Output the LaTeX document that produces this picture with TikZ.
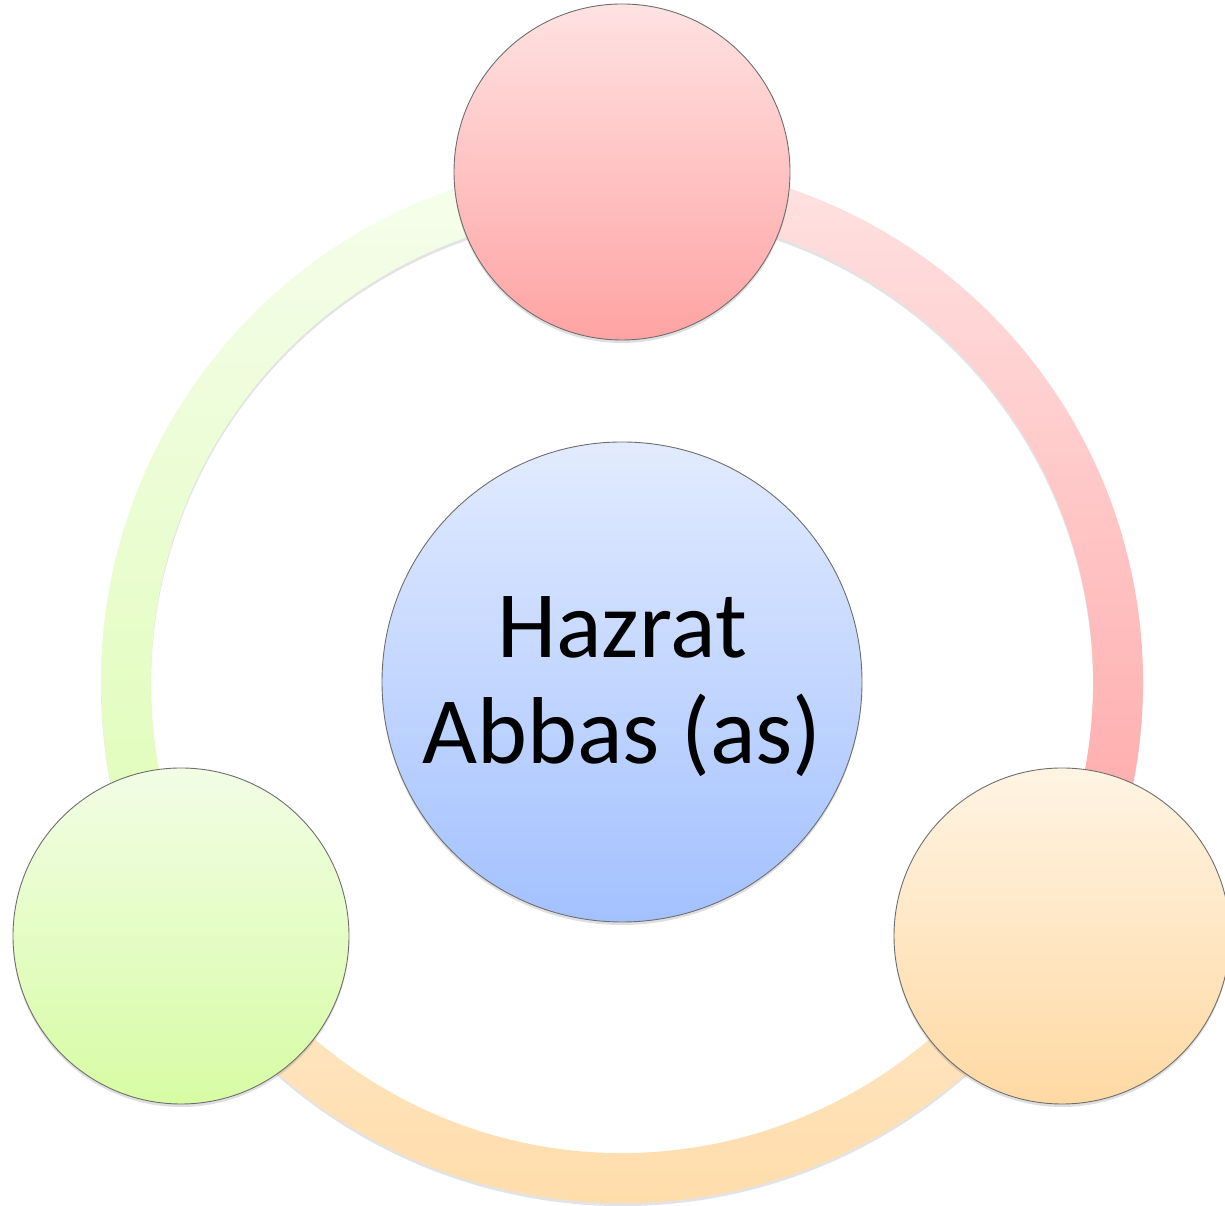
\documentclass[tikz,border=0pt]{standalone}
\usepackage{fontspec}
\setmainfont{Carlito}
\usetikzlibrary{shadows,calc}
\definecolor{pinkT}{HTML}{FFE2E2}
\definecolor{pinkB}{HTML}{FFA3A3}
\definecolor{oraT}{HTML}{FFF4E3}
\definecolor{oraB}{HTML}{FFD9A3}
\definecolor{grnT}{HTML}{F2FDE5}
\definecolor{grnB}{HTML}{D7FCA4}
\definecolor{bluT}{HTML}{E2EBFF}
\definecolor{bluB}{HTML}{A3C1FF}
\definecolor{edge}{HTML}{6E6E6E}
\tikzset{
  ball/.style={circle, draw=edge, line width=0.9pt, minimum size=336pt, inner sep=0pt,
    drop shadow={opacity=0.25, shadow xshift=0pt, shadow yshift=-3pt}},
  band/.style={drop shadow={opacity=0.22, shadow xshift=0pt, shadow yshift=-3pt}},
}
\begin{document}
\begin{tikzpicture}[x=1pt,y=1pt]
\useasboundingbox (0,0) rectangle (1225,1206);
\coordinate (c) at (622,524);
% ring segments
\path[band, top color=pinkT, bottom color=pinkB]
  ($(c)+(90:521)$) arc[start angle=90,end angle=-30,radius=521]
  -- ($(c)+(-30:471)$) arc[start angle=-30,end angle=90,radius=471] -- cycle;
\path[band, top color=grnT!70!white, bottom color=grnB!85!white]
  ($(c)+(90:521)$) arc[start angle=90,end angle=210,radius=521]
  -- ($(c)+(210:471)$) arc[start angle=210,end angle=90,radius=471] -- cycle;
\path[band, top color=oraT!60!oraB, bottom color=oraB]
  ($(c)+(210:521)$) arc[start angle=210,end angle=330,radius=521]
  -- ($(c)+(330:471)$) arc[start angle=330,end angle=210,radius=471] -- cycle;
% circles
\node[ball, top color=pinkT, bottom color=pinkB] (top) at (622,1034) {};
\node[ball, top color=grnT, bottom color=grnB] (left) at (181,270) {};
\node[ball, top color=oraT, bottom color=oraB] (right) at (1062,270) {};
\node[ball, minimum size=480pt, top color=bluT, bottom color=bluB] (mid) at (c) {};
\node[align=center, font=\fontsize{95}{106}\selectfont, text=black] (lbl) at (622,519) {Hazrat\\Abbas (as)};
\end{tikzpicture}
\end{document}
